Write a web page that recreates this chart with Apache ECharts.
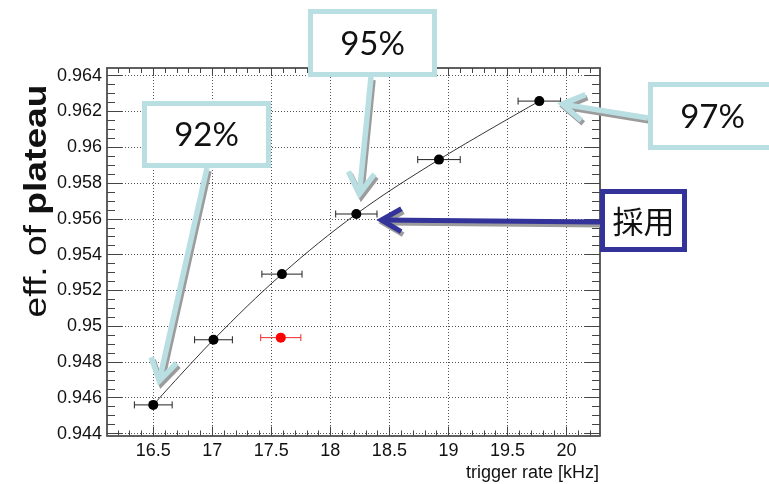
<!DOCTYPE html>
<html>
<head>
<meta charset="utf-8">
<script src="https://cdn.jsdelivr.net/npm/echarts@6/dist/echarts.min.js"></script>
<style>
  html, body { margin: 0; padding: 0; background: #fff; }
  #chart { width: 769px; height: 484px; }
</style>
</head>
<body>
<div id="chart"></div>
<script>
// Plateau efficiency versus trigger rate
const rate    = [16.50, 17.01, 17.59, 18.22, 18.92, 19.77];
const eff     = [0.9456, 0.94924, 0.95291, 0.95627, 0.95931, 0.96258];
const rateErr = [0.16, 0.16, 0.17, 0.175, 0.18, 0.18];

// Extra measurement shown in red
const redRate = [17.58];
const redEff  = [0.94936];
const redErr  = [0.17];

// Axis ticks
const xTicks = [16.5, 17, 17.5, 18, 18.5, 19, 19.5, 20];
const yTicks = [0.944, 0.946, 0.948, 0.95, 0.952, 0.954, 0.956, 0.958, 0.96, 0.962, 0.964];
const xRange = [16.108, 20.284];
const yRange = [0.94389, 0.96443];

// Callout labels and the point index each one points to
const calloutText  = ['92%', '95%', '97%', '採用'];
const calloutPoint = [0, 3, 5, 3];

// minor ticks: 5 subdivisions in x, 4 in y
function minors(lo, hi, step) {
  const out = [];
  const start = Math.ceil(lo / step - 1e-9);
  for (let i = start; i * step <= hi + 1e-12; i++) out.push(+(i * step).toFixed(6));
  return out;
}
const xMinor = minors(xRange[0], xRange[1], 0.1);
const yMinor = minors(yRange[0], yRange[1], 0.0005);

const fmt = v => String(Number((+v).toFixed(4)));
const FRAME = '#555';
const TICK = '#444';

function xAxisDef(pos, values, len, labels, grid) {
  return {
    type: 'value', position: pos, min: xRange[0], max: xRange[1],
    axisLine: { show: true, onZero: false, lineStyle: { color: FRAME, width: 1.5 } },
    axisTick: { show: true, inside: true, length: len, customValues: values, lineStyle: { color: TICK, width: 1 } },
    axisLabel: labels ? { show: true, customValues: values, formatter: fmt, margin: 7,
      fontFamily: 'Liberation Sans', fontSize: 18, color: '#111' } : { show: false },
    splitLine: grid ? { show: true, lineStyle: { color: '#555', width: 1, type: [1, 2] } } : { show: false },
    minorTick: { show: false }, minorSplitLine: { show: false }
  };
}
function yAxisDef(pos, values, len, labels, grid) {
  return {
    type: 'value', position: pos, min: yRange[0], max: yRange[1],
    axisLine: { show: true, onZero: false, lineStyle: { color: FRAME, width: 1.5 } },
    axisTick: { show: true, inside: true, length: len, customValues: values, lineStyle: { color: TICK, width: 1 } },
    axisLabel: labels ? { show: true, customValues: values, formatter: fmt, margin: 5,
      fontFamily: 'Liberation Sans', fontSize: 18, color: '#111' } : { show: false },
    splitLine: grid ? { show: true, lineStyle: { color: '#555', width: 1, type: [1, 2] } } : { show: false },
    minorTick: { show: false }, minorSplitLine: { show: false }
  };
}

function errorBarSeries(xs, ys, errs, color) {
  return {
    type: 'custom',
    xAxisIndex: 0, yAxisIndex: 0,
    z: 3,
    data: xs.map((x, i) => [x - errs[i], x + errs[i], ys[i]]),
    renderItem: function (params, api) {
      const a = api.coord([api.value(0), api.value(2)]);
      const b = api.coord([api.value(1), api.value(2)]);
      const cap = 3.5;
      const st = { stroke: color, lineWidth: 1 };
      return {
        type: 'group',
        children: [
          { type: 'line', shape: { x1: a[0], y1: a[1], x2: b[0], y2: b[1] }, style: st },
          { type: 'line', shape: { x1: a[0], y1: a[1] - cap, x2: a[0], y2: a[1] + cap }, style: st },
          { type: 'line', shape: { x1: b[0], y1: b[1] - cap, x2: b[0], y2: b[1] + cap }, style: st }
        ]
      };
    }
  };
}

const chart = echarts.init(document.getElementById('chart'), null, { renderer: 'canvas' });

chart.setOption({
  animation: false,
  backgroundColor: '#fff',
  grid: { left: 107, right: 169, top: 68, bottom: 48.5, containLabel: false },
  xAxis: [
    xAxisDef('bottom', xTicks, 9, true, true),
    xAxisDef('bottom', xMinor, 5, false, false),
    xAxisDef('top', xTicks, 8, false, false),
    xAxisDef('top', xMinor, 5, false, false)
  ],
  yAxis: [
    yAxisDef('left', yTicks, 15, true, true),
    yAxisDef('left', yMinor, 8, false, false),
    yAxisDef('right', yTicks, 15, false, false),
    yAxisDef('right', yMinor, 8, false, false)
  ],
  series: [
    {
      type: 'line', xAxisIndex: 0, yAxisIndex: 0, z: 2,
      data: rate.map((x, i) => [x, eff[i]]),
      smooth: 0.35, showSymbol: false, symbol: 'none',
      lineStyle: { color: '#000', width: 0.8 }
    },
    errorBarSeries(rate, eff, rateErr, '#222'),
    errorBarSeries(redRate, redEff, redErr, '#f02a2a'),
    {
      type: 'scatter', xAxisIndex: 0, yAxisIndex: 0, z: 4,
      data: rate.map((x, i) => [x, eff[i]]),
      symbol: 'circle', symbolSize: 10, itemStyle: { color: '#000', opacity: 1 }
    },
    {
      type: 'scatter', xAxisIndex: 0, yAxisIndex: 0, z: 4,
      data: redRate.map((x, i) => [x, redEff[i]]),
      symbol: 'circle', symbolSize: 10, itemStyle: { color: '#ff0000', opacity: 1 }
    }
  ]
});

// ---- callouts ----
const LIGHT = '#b9dfe3';
const DARK = '#333399';
const SHADOW = '#9c9c9c';

const calloutBoxes = [
  { x: 144.5, y: 103.5, w: 124, h: 62, color: LIGHT, font: '33px Lato', from: [207, 168], off: [6, -24] },
  { x: 310.5, y: 11.5, w: 124, h: 63, color: LIGHT, font: '33px Lato', from: [371, 77], off: [3, -20] },
  { x: 650.5, y: 84.5, w: 130, h: 63, color: LIGHT, font: '33px Lato', from: [648, 118], off: [23, 3] },
  { x: 602.5, y: 191.5, w: 82, h: 58, color: DARK, font: '31px "Noto Sans CJK JP"', from: [600, 222], off: [25, 6] }
];

function arrowElems(from, tip, color, width, wingLen, wingAng, sdx, sdy) {
  const dx = from[0] - tip[0], dy = from[1] - tip[1];
  const L = Math.hypot(dx, dy);
  const ux = dx / L, uy = dy / L;
  const rot = a => [ux * Math.cos(a) - uy * Math.sin(a), ux * Math.sin(a) + uy * Math.cos(a)];
  const w1 = rot(wingAng), w2 = rot(-wingAng);
  const p1 = [tip[0] + w1[0] * wingLen, tip[1] + w1[1] * wingLen];
  const p2 = [tip[0] + w2[0] * wingLen, tip[1] + w2[1] * wingLen];
  const els = [];
  [[SHADOW, sdx, sdy, 90], [color, 0, 0, 91]].forEach(([c, ox, oy, z]) => {
    els.push({ type: 'polyline', z: z, x: ox, y: oy, silent: true,
      shape: { points: [from, tip] },
      style: { stroke: c, lineWidth: width, fill: null, lineCap: 'butt' } });
    els.push({ type: 'polyline', z: z, x: ox, y: oy, silent: true,
      shape: { points: [p1, tip, p2] },
      style: { stroke: c, lineWidth: width, fill: null, lineJoin: 'miter', lineCap: 'butt' } });
  });
  return els;
}

function buildGraphics() {
  const els = [];
  calloutBoxes.forEach((b, i) => {
    const k = calloutPoint[i];
    const p = chart.convertToPixel({ xAxisIndex: 0, yAxisIndex: 0 }, [rate[k], eff[k]]);
    const tip = [p[0] + b.off[0], p[1] + b.off[1]];
    const isDark = b.color === DARK;
    els.push(...arrowElems(b.from, tip, b.color, isDark ? 5 : 5.5, isDark ? 23 : 25,
      isDark ? 0.52 : 0.55, 2, 3));
    els.push({ type: 'rect', z: 95, silent: true,
      shape: { x: b.x, y: b.y, width: b.w, height: b.h },
      style: { fill: '#fff', stroke: b.color, lineWidth: 5 } });
    els.push({ type: 'text', z: 96, silent: true,
      x: b.x + (i === 2 ? 62 : b.w / 2), y: b.y + b.h / 2 + 1,
      style: { text: calloutText[i], font: b.font, fill: '#111', align: 'center', verticalAlign: 'middle' } });
  });
  // axis titles
  els.push({ type: 'text', z: 96, silent: true, x: 599, y: 473,
    style: { text: 'trigger rate [kHz]', font: '18px "Liberation Sans"', fill: '#111',
      align: 'right', verticalAlign: 'middle' } });
  els.push({ type: 'text', z: 96, silent: true, x: 37, y: 201, rotation: Math.PI / 2, scaleX: 1.2,
    style: { text: '{a|eff. of }{b|plateau}', align: 'center', verticalAlign: 'middle', fill: '#111',
      rich: {
        a: { fontFamily: 'Liberation Sans', fontSize: 31, fill: '#111', fontWeight: 'normal' },
        b: { fontFamily: 'Liberation Sans', fontSize: 31, fill: '#111', fontWeight: 'bold' }
      } } });
  return els;
}

chart.setOption({ graphic: { elements: buildGraphics() } });
</script>
</body>
</html>
